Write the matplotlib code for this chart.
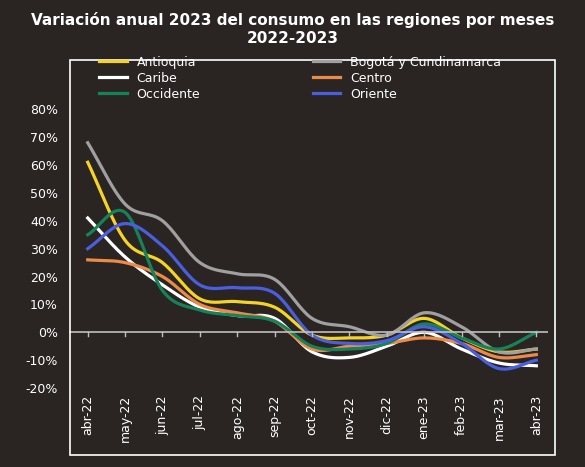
import numpy as np
import matplotlib
matplotlib.use("Agg")
import matplotlib.pyplot as plt
from matplotlib.patches import Rectangle

months = ["abr-22","may-22","jun-22","jul-22","ago-22","sep-22","oct-22","nov-22","dic-22","ene-23","feb-23","mar-23","abr-23"]
antioquia = [61, 33, 25, 12, 11, 9, -1, -2, -1, 5, -2, -7, -6]
bogota    = [68, 46, 40, 25, 21, 19, 5, 2, -1, 7, 2, -7, -6]
caribe    = [41, 27, 17, 9, 6, 5, -7, -9, -5, 0, -6, -11, -12]
centro    = [26, 25, 20, 10, 7, 4, -6, -5, -4, -2, -4, -9, -8]
occidente = [35, 43, 15, 8, 6, 4, -5, -6, -4, 3, -2, -6, 0]
oriente   = [30, 39, 31, 17, 16, 14, -1, -4, -3, 2, -4, -13, -10]

series = [("Antioquia", antioquia, "#f5d327"), ("Bogotá y Cundinamarca", bogota, "#a0a0a0"),
          ("Caribe", caribe, "#ffffff"), ("Centro", centro, "#ec8a48"),
          ("Occidente", occidente, "#16825a"), ("Oriente", oriente, "#4a5fe0")]

def smooth(y, n=20):
    y = np.asarray(y, float)
    p = np.concatenate([[2*y[0]-y[1]], y, [2*y[-1]-y[-2]]])
    xs, ys = [], []
    for i in range(len(y)-1):
        p0, p1, p2, p3 = p[i], p[i+1], p[i+2], p[i+3]
        t = np.linspace(0, 1, n, endpoint=False)
        v = 0.5*((2*p1) + (-p0+p2)*t + (2*p0-5*p1+4*p2-p3)*t**2 + (-p0+3*p1-3*p2+p3)*t**3)
        xs.append(i+t); ys.append(v)
    xs.append([len(y)-1]); ys.append([y[-1]])
    return np.concatenate(xs), np.concatenate(ys)

bg = "#2a2523"
fig = plt.figure(figsize=(5.85, 4.67), dpi=100, facecolor=bg)
ax = fig.add_axes([0.118, 0.169, 0.818, 0.597], facecolor=bg)
fig.patches.append(Rectangle((70/585, 12/467), 485/585, 395/467, transform=fig.transFigure,
                             fill=False, edgecolor="white", lw=1.2))

handles = {}
for name, vals, col in series:
    xs, ys = smooth(vals)
    h, = ax.plot(xs, ys, color=col, lw=2.3, label=name)
    handles[name] = h

ax.set_xlim(-0.5, 12.3)
ax.set_ylim(-20, 80)
ax.axhline(0, color="#bfbfbf", lw=1.2)
for i in range(len(months)):
    ax.plot([i, i], [0, -1.5], color="#bfbfbf", lw=1)
for s in ax.spines.values():
    s.set_visible(False)
ax.set_yticks(range(-20, 81, 10))
ax.set_yticklabels([f"{v}%" for v in range(-20, 81, 10)], color="white", fontsize=9)
ax.set_xticks(range(len(months)))
ax.set_xticklabels(months, rotation=90, color="white", fontsize=9)
ax.tick_params(length=0, pad=8)
ax.tick_params(axis="x", pad=5)

order = ["Antioquia", "Caribe", "Occidente", "Bogotá y Cundinamarca", "Centro", "Oriente"]
fig.legend(handles=[handles[k] for k in order], loc="upper left", bbox_to_anchor=(0.15, 0.905), ncol=2,
           frameon=False, labelcolor="white", fontsize=9, handlelength=2.2,
           columnspacing=9.0, labelspacing=0.25)

fig.text(0.5, 0.975, "Variación anual 2023 del consumo en las regiones por meses\n2022-2023",
         ha="center", va="top", color="white", fontsize=11, fontweight="bold", linespacing=1.3)

fig.savefig("out.png", dpi=100, facecolor=bg)
